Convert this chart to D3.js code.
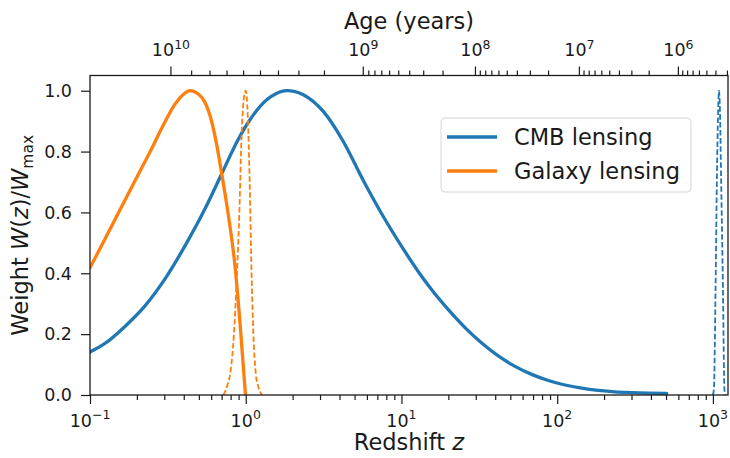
<!DOCTYPE html>
<html>
<head>
<meta charset="utf-8">
<script src="https://cdn.jsdelivr.net/npm/d3@7"></script>
<style>
  html, body { margin: 0; padding: 0; background: #fff; }
  svg text { font-family: "DejaVu Sans", sans-serif; fill: #1a1a1a; }
</style>
</head>
<body>
<svg id="chart" width="730" height="458"></svg>
<script>
// Lensing weight kernels, normalised to their maxima
const cmbZ = [0.1, 0.1248, 0.1677, 0.2255, 0.3031, 0.4074, 0.5476, 0.701, 0.896, 1.065, 1.364, 1.564, 1.833, 2.072, 2.343, 3.148, 4.231, 5.689, 7.644, 10.27, 13.15, 15.64, 20.0, 25.59, 32.75, 41.85, 53.6, 68.6, 87.7, 112.2, 143.7, 183.7, 235, 301, 384.7, 505];
const cmbW = [0.1414, 0.1694, 0.2253, 0.2928, 0.3816, 0.4901, 0.6118, 0.727, 0.8405, 0.9046, 0.9704, 0.9901, 1.0, 0.9974, 0.9868, 0.9319, 0.8332, 0.7049, 0.5865, 0.4799, 0.3977, 0.3457, 0.2803, 0.2214, 0.1707, 0.1283, 0.0941, 0.0678, 0.0477, 0.0329, 0.0224, 0.0151, 0.0102, 0.0079, 0.0063, 0.0053];

const galZ = [0.1, 0.1248, 0.1558, 0.1945, 0.2428, 0.2943, 0.3463, 0.3956, 0.4386, 0.4937, 0.5477, 0.6047, 0.649, 0.701, 0.7729, 0.8533, 0.9188, 0.9965];
const galW = [0.418, 0.513, 0.609, 0.704, 0.799, 0.885, 0.951, 0.987, 1.0, 0.990, 0.961, 0.898, 0.826, 0.727, 0.592, 0.424, 0.237, 0.0];

// Source distributions (dashed): galaxies near z = 1, CMB last scattering near z = 1100
const galSrcZ = [0.72, 0.76, 0.80, 0.84, 0.875, 0.91, 0.94, 0.97, 1.0, 1.03, 1.06, 1.09, 1.12, 1.16, 1.20, 1.27];
const galSrcW = [0.0, 0.03, 0.08, 0.2, 0.38, 0.6, 0.85, 0.97, 1.0, 0.92, 0.7, 0.4, 0.2, 0.07, 0.03, 0.0];

const cmbSrcZ = [1000, 1015, 1040, 1060, 1080, 1095, 1110, 1130, 1160, 1185, 1200];
const cmbSrcW = [0.0, 0.02, 0.35, 0.70, 0.93, 1.0, 0.93, 0.70, 0.35, 0.02, 0.0];

// Axis ticks
const yTicks = [0.0, 0.2, 0.4, 0.6, 0.8, 1.0];
const zTickExps = [-1, 0, 1, 2, 3];
const ageTickExps = [10, 9, 8, 7, 6];

const seriesNames = ["CMB lensing", "Galaxy lensing"];
const colors = ["#1f77b4", "#ff7f0e"];

const svg = d3.select("#chart");
const L = 90, R = 728, T = 75.5, B = 395;

const x = d3.scaleLog().domain([0.1, 1250]).range([L, R]);
const y = d3.scaleLinear().domain([0, 1.05]).range([B, T]);

// --- age of the universe at redshift z (flat LCDM with radiation) ---
const H0 = 67.74, Om = 0.3075, Or = 9.1e-5, OL = 1 - Om - Or;
const tHubbleYr = 977.79e9 / H0;
function ageAtZ(z) {
  const ua = Math.log(1 / (1 + z)), u0 = -25, n = 2000;
  const h = (ua - u0) / n;
  const f = u => { const a = Math.exp(u); return 1 / Math.sqrt(Or / (a ** 4) + Om / (a ** 3) + OL); };
  let s = f(u0) + f(ua);
  for (let i = 1; i < n; i++) s += (i % 2 ? 4 : 2) * f(u0 + i * h);
  return tHubbleYr * s * h / 3;
}
function zForAge(age) {
  let lo = -3, hi = 5;
  for (let k = 0; k < 60; k++) {
    const mid = (lo + hi) / 2;
    if (ageAtZ(10 ** mid) > age) lo = mid; else hi = mid;
  }
  return 10 ** ((lo + hi) / 2);
}

// --- curves ---
const defs = svg.append("defs");
defs.append("clipPath").attr("id", "plotclip")
  .append("rect").attr("x", L).attr("y", T).attr("width", R - L).attr("height", B - T);

const line = d3.line().x(d => x(d[0])).y(d => y(d[1])).curve(d3.curveMonotoneX);
const zip = (a, b) => a.map((v, i) => [v, b[i]]);

const plot = svg.append("g").attr("clip-path", "url(#plotclip)");
plot.append("path").attr("d", line(zip(cmbZ, cmbW)))
  .attr("fill", "none").attr("stroke", colors[0]).attr("stroke-width", 3.3).attr("stroke-linecap", "round");
plot.append("path").attr("d", line(zip(cmbSrcZ, cmbSrcW)))
  .attr("fill", "none").attr("stroke", colors[0]).attr("stroke-width", 1.8).attr("stroke-dasharray", "5.5,2.5");
plot.append("path").attr("d", line(zip(galZ, galW)))
  .attr("fill", "none").attr("stroke", colors[1]).attr("stroke-width", 3.3).attr("stroke-linecap", "round");
plot.append("path").attr("d", line(zip(galSrcZ, galSrcW)))
  .attr("fill", "none").attr("stroke", colors[1]).attr("stroke-width", 1.8).attr("stroke-dasharray", "5.5,2.5");

// --- frame ---
svg.append("rect").attr("x", L).attr("y", T).attr("width", R - L).attr("height", B - T)
  .attr("fill", "none").attr("stroke", "#1a1a1a").attr("stroke-width", 1.3);

const tickStroke = "#1a1a1a";

// bottom axis: redshift
const zMinor = [];
zTickExps.forEach(e => { for (let k = 2; k <= 9; k++) { const v = k * 10 ** e; if (v <= 1250) zMinor.push(v); } });
const gB = svg.append("g").attr("transform", `translate(0,${B})`);
gB.call(d3.axisBottom(x).tickValues(zTickExps.map(e => 10 ** e)).tickSize(9).tickFormat(""));
gB.append("g").call(d3.axisBottom(x).tickValues(zMinor).tickSize(5).tickFormat(""));
gB.selectAll(".domain").remove();
gB.selectAll("line").attr("stroke", tickStroke).attr("stroke-width", 1.2);

zTickExps.forEach(e => {
  const t = svg.append("text").attr("x", x(10 ** e)).attr("y", 426.5)
    .attr("text-anchor", "middle").style("font-size", "17.5px");
  t.append("tspan").text("10");
  t.append("tspan").attr("dy", -7.5).style("font-size", "12.5px").text(e < 0 ? "\u2212" + (-e) : String(e));
});

// left axis: weight
const gL = svg.append("g").attr("transform", `translate(${L},0)`);
gL.call(d3.axisLeft(y).tickValues(yTicks).tickSize(9).tickFormat(""));
gL.selectAll(".domain").remove();
gL.selectAll("line").attr("stroke", tickStroke).attr("stroke-width", 1.2);
yTicks.forEach(v => {
  svg.append("text").attr("x", 72).attr("y", y(v)).attr("dy", "0.36em")
    .attr("text-anchor", "end").style("font-size", "17.5px").text(v.toFixed(1));
});

// top axis: age of the universe
const ageMax = ageAtZ(0.1), ageMin = ageAtZ(1250);
const ageMajor = ageTickExps.map(e => 10 ** e).filter(a => a <= ageMax && a >= ageMin);
const ageMinor = [];
[10, 9, 8, 7, 6, 5].forEach(e => { for (let k = 2; k <= 9; k++) { const a = k * 10 ** e; if (a <= ageMax && a >= ageMin) ageMinor.push(a); } });

const gT = svg.append("g");
ageMajor.forEach(a => {
  const px = x(zForAge(a));
  gT.append("line").attr("x1", px).attr("x2", px).attr("y1", T).attr("y2", T - 9)
    .attr("stroke", tickStroke).attr("stroke-width", 1.2);
  const e = Math.round(Math.log10(a));
  const t = svg.append("text").attr("x", px).attr("y", 56)
    .attr("text-anchor", "middle").style("font-size", "17.5px");
  t.append("tspan").text("10");
  t.append("tspan").attr("dy", -7.5).style("font-size", "12.5px").text(String(e));
});
ageMinor.forEach(a => {
  const px = x(zForAge(a));
  gT.append("line").attr("x1", px).attr("x2", px).attr("y1", T).attr("y2", T - 5)
    .attr("stroke", tickStroke).attr("stroke-width", 1.2);
});

// axis titles
svg.append("text").attr("x", (L + R) / 2).attr("y", 29).attr("text-anchor", "middle")
  .style("font-size", "22.5px").text("Age (years)");

const xl = svg.append("text").attr("x", (L + R) / 2).attr("y", 450).attr("text-anchor", "middle")
  .style("font-size", "22.5px");
xl.append("tspan").text("Redshift ");
xl.append("tspan").style("font-style", "italic").text("z");

const yl = svg.append("text").attr("transform", `translate(28,${(T + B) / 2}) rotate(-90)`)
  .attr("text-anchor", "middle").style("font-size", "22.5px");
yl.append("tspan").text("Weight ");
yl.append("tspan").style("font-style", "italic").text("W");
yl.append("tspan").text("(");
yl.append("tspan").style("font-style", "italic").text("z");
yl.append("tspan").text(")/");
yl.append("tspan").style("font-style", "italic").text("W");
yl.append("tspan").attr("dy", 5).style("font-size", "15.5px").text("max");

// legend
const lg = svg.append("g");
lg.append("rect").attr("x", 441).attr("y", 118).attr("width", 250).attr("height", 74).attr("rx", 4)
  .attr("fill", "#fff").attr("fill-opacity", 0.8).attr("stroke", "#d6d6d6").attr("stroke-width", 1);
seriesNames.forEach((name, i) => {
  const ly = 137 + i * 34;
  lg.append("line").attr("x1", 447).attr("x2", 497).attr("y1", ly).attr("y2", ly)
    .attr("stroke", colors[i]).attr("stroke-width", 3.3);
  lg.append("text").attr("x", 514).attr("y", ly + 8).style("font-size", "22.5px").text(name);
});
</script>
</body>
</html>
